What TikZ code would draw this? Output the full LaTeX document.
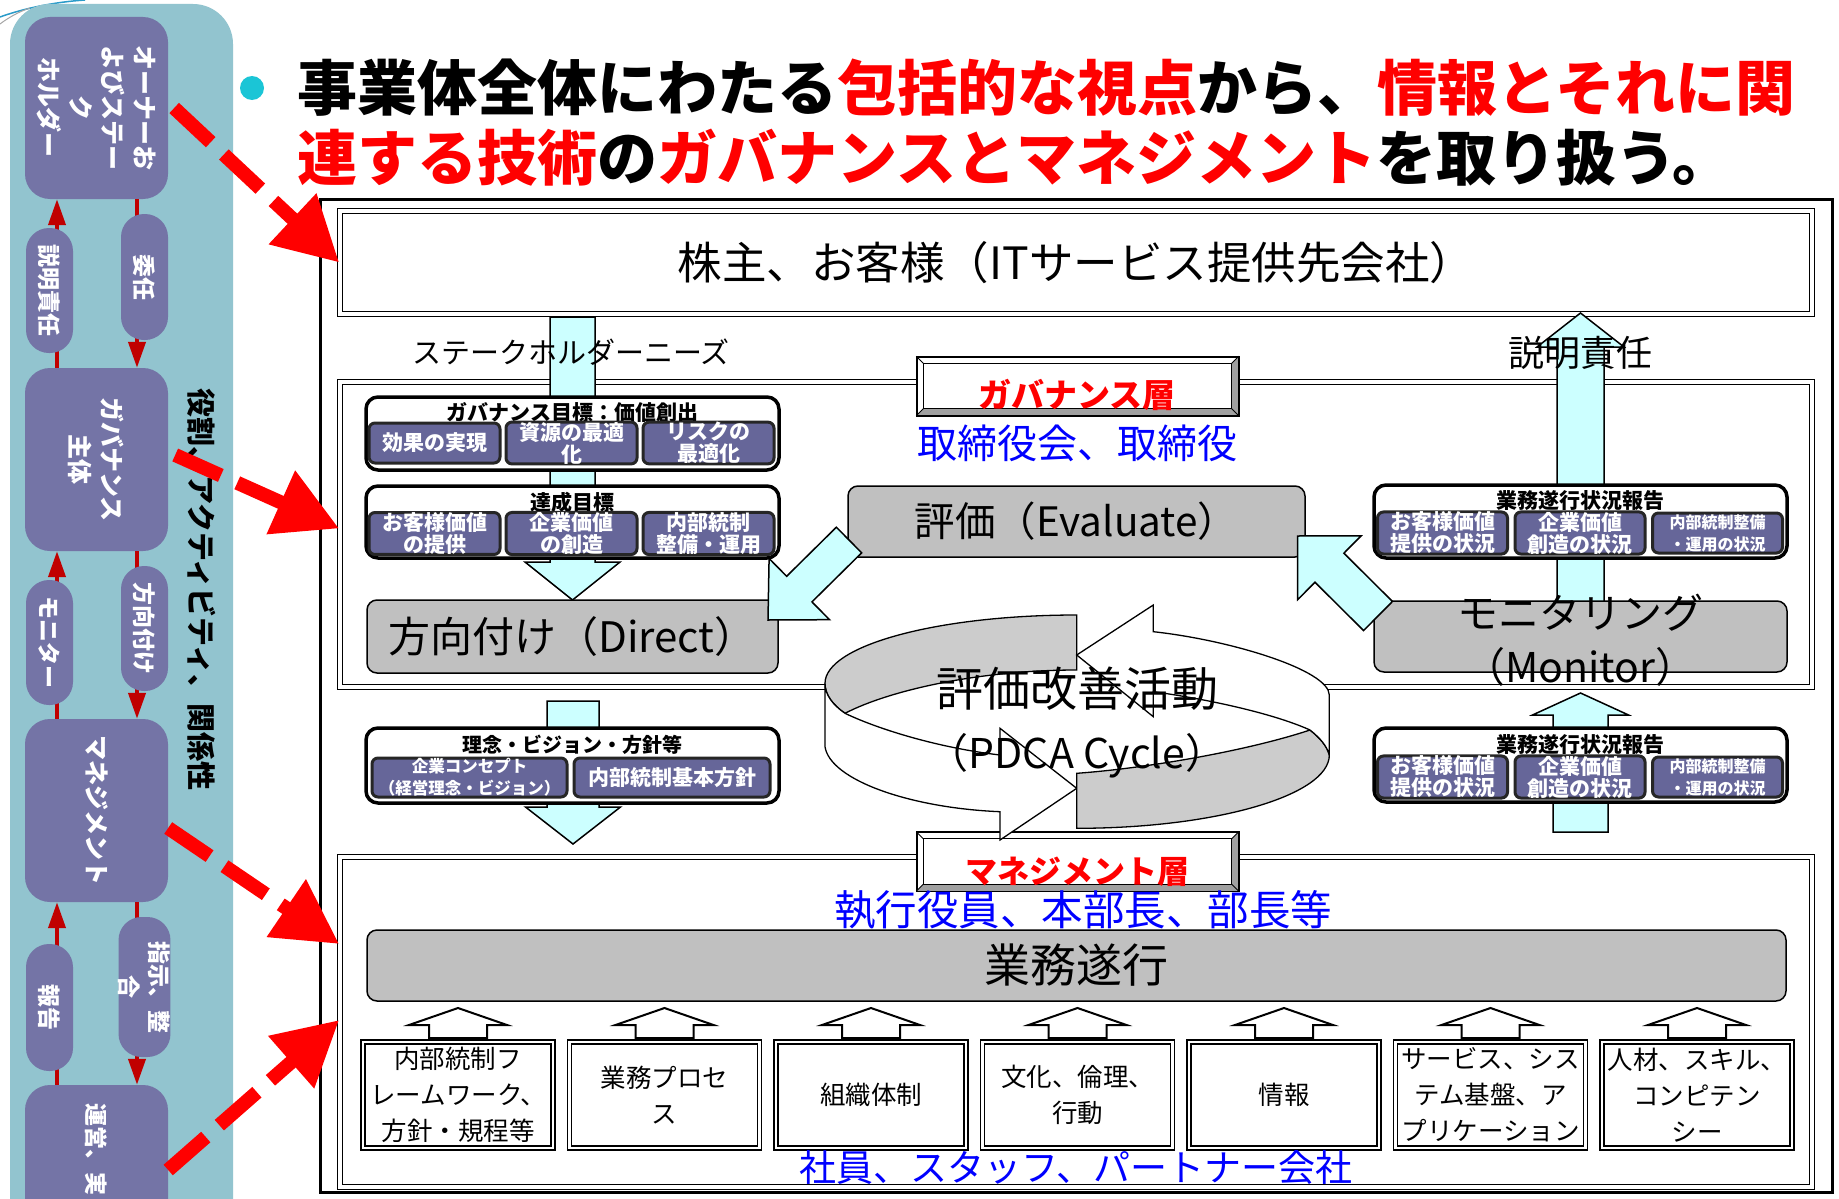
\documentclass[tikz,border=0pt]{standalone}
\usepackage{fontspec}
\setmainfont{Noto Sans CJK JP}
\usetikzlibrary{arrows.meta,calc}

\definecolor{panelbg}{HTML}{92C4CF}
\definecolor{panelpurple}{HTML}{7474A6}
\definecolor{panelred}{HTML}{C00000}
\definecolor{titlered}{HTML}{FF0000}
\definecolor{subfill}{HTML}{666699}
\definecolor{cyanfill}{HTML}{CCFFFF}
\definecolor{boxgray}{HTML}{C0C0C0}
\definecolor{ringfill}{HTML}{CCCCCC}
\definecolor{bevelgray}{HTML}{A0A0A0}
\definecolor{bulletcyan}{HTML}{1BC5D6}

\newcommand{\fs}[2]{\fontsize{#1}{#2}\selectfont}
% block arrow: style, start, tip, half shaft, half head, head length
\newcommand{\blockarrow}[6]{%
  \coordinate (ba) at ($(#3)!#6!(#2)$);
  \filldraw[#1] ($(#2)!#4!90:(#3)$) -- ($(ba)!#4!90:(#3)$) -- ($(ba)!#5!90:(#3)$) -- (#3)
    -- ($(ba)!#5!-90:(#3)$) -- ($(ba)!#4!-90:(#3)$) -- ($(#2)!#4!-90:(#3)$) -- cycle;
}

\begin{document}
\begin{tikzpicture}[x=1pt, y=-1pt,
  layerbox/.style={draw, line width=1.6, double, double distance=3.2, minimum width=1472, inner sep=0},
  panelbox/.style={fill=panelpurple, rounded corners=25, rotate=-90, text=white, align=center, font=\fs{25}{32}\bfseries, inner sep=0, minimum height=143},
  paneltext/.style={rotate=-90, text=white, font=\fs{23}{32}\bfseries, inner sep=0},
  pillbox/.style={fill=panelpurple, rounded corners=23, rotate=-90, text=white, align=center, font=\fs{23}{30}\bfseries, inner sep=0, minimum height=47},
  panelarrow/.style={draw=panelred, line width=4, -{Triangle[length=26pt, width=17pt]}},
  dasharrow/.style={draw=titlered, line width=14, dash pattern=on 50pt off 18pt, -{Triangle[length=64pt, width=66pt]}},
  grpbox/.style={draw, fill=white, line width=3.5, rounded corners=12, inner sep=0, minimum width=413},
  grptitle/.style={font=\fs{21}{22}\bfseries, inner sep=0},
  subbox/.style={draw=black!85, fill=subfill, line width=3, rounded corners=6, text=white, align=center, font=\fs{21}{22}\bfseries, inner sep=0, minimum height=40},
  graybox/.style={draw, fill=boxgray, line width=1.5, rounded corners=10, inner sep=0, align=center},
  cyanarrow/.style={draw, fill=cyanfill, line width=1.5},
  uparrow/.style={draw, fill=white, line width=2},
  resbox/.style={draw, line width=1.4, double, double distance=2.6, minimum width=190, minimum height=106, inner sep=0, align=center, font=\fs{25.5}{36}},
  labelbox/.style={draw, fill=white, line width=1.5, minimum width=321, minimum height=58, inner sep=0},
  ringgray/.style={draw, fill=ringfill, line width=1.3},
  ringwhite/.style={draw, fill=white, line width=1.3},
  bluetext/.style={text=blue, inner sep=0},
  redtext/.style={text=titlered, inner sep=0}
]
  \useasboundingbox (0,0) rectangle (1839,1199);
  \fill[white] (0,0) rectangle (1839,1199);

  % left panel
  \draw[cyan!60!teal, line width=1.5] (0,17) .. controls (25,8) and (55,2) .. (85,0);
  \draw[gray!70, line width=1] (0,24) .. controls (8,18) and (18,12) .. (30,8);
  \fill[panelbg, rounded corners=40] (10,4) rectangle (233,1240);
  \node[panelbox, minimum width=182] (owner) at (96.5,108) {オーナーお\\よびステー\\ク\\ホルダー};
  \node[panelbox, minimum width=183] (govbody) at (96.5,459.5) {ガバナンス\\主体};
  \node[panelbox, minimum width=183] (mgmtbox) at (96.5,810.5) {マネジメント};
  \node[panelbox, minimum width=183] (oper) at (96.5,1176.5) {};
  \node[paneltext, anchor=west] (opertext) at (96.5,1103) {運営、実};
  \draw[panelarrow] ([xshift=-39.5]govbody.west) -- ([xshift=-39.5]owner.east);
  \draw[panelarrow] ([xshift=40.5]owner.east) -- ([xshift=40.5]govbody.west);
  \draw[panelarrow] ([xshift=-39.5]mgmtbox.west) -- ([xshift=-39.5]govbody.east);
  \draw[panelarrow] ([xshift=40.5]govbody.east) -- ([xshift=40.5]mgmtbox.west);
  \draw[panelarrow] ([xshift=-39.5]oper.west) -- ([xshift=-39.5]mgmtbox.east);
  \draw[panelarrow] ([xshift=40.5]mgmtbox.east) -- ([xshift=40.5]oper.west);
  \node[pillbox, minimum width=125] (accnt) at (49.5,290.5) {説明責任};
  \node[pillbox, minimum width=126] (deleg) at (144.5,277) {委任};
  \node[pillbox, minimum width=125] (monit) at (49.5,642.5) {モニター};
  \node[pillbox, minimum width=125] (direc) at (144.5,628.5) {方向付け};
  \node[pillbox, minimum width=127] (report) at (49.5,1007.5) {報告};
  \node[pillbox, minimum width=140] (instr) at (144.5,987) {指示、整\\合};
  \node[rotate=-90, font=\fs{29}{32}\bfseries, inner sep=0] (roles) at (202,589.5) {役割、アクティビティ、関係性};

  % title
  \fill[bulletcyan] (252,88) circle (12);
  \node[anchor=west, inner sep=0, font=\fs{60}{70}\bfseries] (title1) at (297,88)
    {事業体全体にわたる\textcolor{titlered}{包括的な視点}から、\textcolor{titlered}{情報とそれに関}};
  \node[anchor=west, inner sep=0, font=\fs{60}{70}\bfseries] (title2) at (297,158)
    {\textcolor{titlered}{連する技術}の\textcolor{titlered}{ガバナンスとマネジメント}を取り扱う。};

  % frames
  \draw[line width=3] (320,199) rectangle (1832,1192);
  \node[layerbox, minimum height=103, font=\fs{44.5}{48}] (client) at (1076,262.5) {株主、お客様（ITサービス提供先会社）};
  \node[layerbox, minimum height=305] (govlayer) at (1076,534.5) {};
  \node[layerbox, minimum height=330] (mgmtlayer) at (1076,1022) {};

  % vertical block arrows
  \coordinate (sn-s) at (572.5,317);
  \coordinate (sn-t) at (572.5,600);
  \blockarrow{cyanarrow}{sn-s}{sn-t}{22.5pt}{47.5pt}{38pt}
  \coordinate (ac-s) at (1580.5,610);
  \coordinate (ac-t) at (1580.5,313);
  \blockarrow{cyanarrow}{ac-s}{ac-t}{23.5pt}{43.5pt}{34pt}
  \coordinate (rn-s) at (573,701);
  \coordinate (rn-t) at (573,844);
  \blockarrow{cyanarrow}{rn-s}{rn-t}{26pt}{47.5pt}{37pt}
  \coordinate (rp-s) at (1580.5,832);
  \coordinate (rp-t) at (1580.5,693);
  \blockarrow{cyanarrow}{rp-s}{rp-t}{27.5pt}{48pt}{22pt}

  % layer labels
  \foreach \nm/\cy in {govlabel/386, mgmtlabel/861.5} {
    \node[labelbox] (\nm) at (1077.5,\cy) {};
    \fill[bevelgray] (\nm.south west) -- (\nm.south east) -- ([shift={(-7,-7)}]\nm.south east) -- ([shift={(7,-7)}]\nm.south west) -- cycle;
    \fill[bevelgray] (\nm.south east) -- (\nm.north east) -- ([shift={(-7,7)}]\nm.north east) -- ([shift={(-7,-7)}]\nm.south east) -- cycle;
    \draw[line width=1.5] (\nm.south west) rectangle (\nm.north east);
    \draw[line width=1.2] ([shift={(7,7)}]\nm.north west) rectangle ([shift={(-7,-7)}]\nm.south east);
    \draw[line width=1] (\nm.north west) -- ([shift={(7,7)}]\nm.north west)
      (\nm.north east) -- ([shift={(-7,7)}]\nm.north east)
      (\nm.south east) -- ([shift={(-7,-7)}]\nm.south east)
      (\nm.south west) -- ([shift={(7,-7)}]\nm.south west);
  }

  % governance layer
  \node[grpbox, minimum height=73] (gtarget) at (572.5,433.5) {};
  \node[grptitle] (gtargett) at (572.5,412) {ガバナンス目標：価値創出};
  \node[subbox, minimum width=131] (gt1) at (434.5,443) {効果の実現};
  \node[subbox, minimum width=131] (gt2) at (571.5,443) {資源の最適\\化};
  \node[subbox, minimum width=131] (gt3) at (708.5,443) {リスクの\\最適化};
  \node[grpbox, minimum height=72] (achieve) at (572.5,522) {};
  \node[grptitle] (achievet) at (572.5,502) {達成目標};
  \node[subbox, minimum width=131] (ac1) at (434.5,533.5) {お客様価値\\の提供};
  \node[subbox, minimum width=131] (ac2) at (571.5,533.5) {企業価値\\の創造};
  \node[subbox, minimum width=131] (ac3) at (708.5,533.5) {内部統制\\整備・運用};
  \node[graybox, minimum width=411, minimum height=73, font=\fs{42}{48}] (direct) at (572.5,636.5) {方向付け（Direct）};
  \node[graybox, minimum width=457, minimum height=71, font=\fs{40.5}{48}] (evaluate) at (1076.5,521.5) {評価（Evaluate）};
  \node[grpbox, minimum height=73] (status1) at (1580.5,521.5) {};
  \node[grptitle] (status1t) at (1580.5,501) {業務遂行状況報告};
  \node[subbox, minimum width=130] (st1) at (1442.5,533) {お客様価値\\提供の状況};
  \node[subbox, minimum width=130] (st2) at (1580,533) {企業価値\\創造の状況};
  \node[subbox, minimum width=130, font=\fs{16}{22}\bfseries] (st3) at (1717.5,533) {内部統制整備\\・運用の状況};
  \node[graybox, minimum width=413, minimum height=71] (monitor) at (1580.5,636.5) {};
  \node[font=\fs{41}{54}, align=center, inner sep=0] (monitort) at (1580.5,640) {モニタリング\\（Monitor）};

  % middle row
  \node[grpbox, minimum height=75] (rinen) at (572.5,765.5) {};
  \node[grptitle, font=\fs{20}{22}\bfseries] (rinent) at (572.5,745) {理念・ビジョン・方針等};
  \node[subbox, minimum width=195, minimum height=39, font=\fs{16.5}{22}\bfseries] (rn1) at (469.5,777.5) {企業コンセプト\\（経営理念・ビジョン）};
  \node[subbox, minimum width=196, minimum height=39] (rn2) at (672,777.5) {内部統制基本方針};
  \node[grpbox, minimum height=74] (status2) at (1580.5,765) {};
  \node[grptitle] (status2t) at (1580.5,745) {業務遂行状況報告};
  \node[subbox, minimum width=130] (sr1) at (1442.5,777) {お客様価値\\提供の状況};
  \node[subbox, minimum width=130] (sr2) at (1580,777) {企業価値\\創造の状況};
  \node[subbox, minimum width=130, font=\fs{16}{22}\bfseries] (sr3) at (1717.5,777) {内部統制整備\\・運用の状況};

  % diagonal block arrows
  \coordinate (ed-s) at (849,540);
  \coordinate (ed-t) at (768,620);
  \blockarrow{cyanarrow}{ed-s}{ed-t}{18pt}{43pt}{44pt}
  \coordinate (me-s) at (1378,616);
  \coordinate (me-t) at (1297.5,536);
  \blockarrow{cyanarrow}{me-s}{me-t}{20.5pt}{45pt}{45pt}

  % PDCA cycle
  \fill[white] (1077,721) ellipse [x radius=250, y radius=104];
  \filldraw[ringgray] (1076.7,615) .. controls (937.6,615) and (825,645.5) .. (825,683.3)
    .. controls (825,695) and (833,705) .. (845,713.3)
    .. controls (890,690) and (980,670) .. (1076.7,670) -- cycle;
  \filldraw[ringwhite] (825,683.3) -- (825,746.7) .. controls (830,780) and (910,808) .. (1000,811.7)
    -- (1000,840) -- (1076.7,788.3) -- (1000,728.3) -- (1000,755)
    .. controls (940,748) and (880,730) .. (845,713.3)
    .. controls (833,705) and (825,695) .. (825,683.3) -- cycle;
  \filldraw[ringgray] (1076.7,773.3) .. controls (1150,768) and (1250,750) .. (1310,730)
    .. controls (1320,738) and (1327,746) .. (1329.3,755)
    .. controls (1329.3,795.3) and (1216,828.3) .. (1076.7,828.3) -- cycle;
  \filldraw[ringwhite] (1329.3,755) -- (1329.3,695) .. controls (1329,670) and (1230,640) .. (1153.3,631.7)
    -- (1153.3,605) -- (1076.7,655) -- (1153.3,716.7) -- (1153.3,691.7)
    .. controls (1200,698) and (1270,712) .. (1310,730)
    .. controls (1320,738) and (1327,746) .. (1329.3,755) -- cycle;
  \node[font=\fs{47}{50}, inner sep=0] (pdca1) at (1077,689) {評価改善活動};
  \node[font=\fs{41}{50}, inner sep=0] (pdca2) at (1077,756) {（PDCA Cycle）};

  % management layer
  \node[graybox, minimum width=1419, minimum height=71, font=\fs{46}{50}] (gyomu) at (1076.5,965.5) {業務遂行};
  \foreach \i/\txt [evaluate=\i as \cx using 458+206.5*\i] in {0/{内部統制フ\\レームワーク、\\方針・規程等}, 1/{業務プロセ\\ス}, 2/組織体制, 3/{文化、倫理、\\行動}, 4/情報, 5/{サービス、シス\\テム基盤、ア\\プリケーション}, 6/{人材、スキル、\\コンピテン\\シー}} {
    \node[resbox] (res\i) at (\cx,1095) {\txt};
    \coordinate (us\i) at (\cx,1038);
    \coordinate (ut\i) at (\cx,1008);
    \blockarrow{uparrow}{us\i}{ut\i}{29pt}{49pt}{17pt}
  }

  % labels
  \node[font=\fs{29}{34}, inner sep=0] (needs) at (571,352) {ステークホルダーニーズ};
  \node[font=\fs{36}{40}, inner sep=0] (accnttext) at (1580,353) {説明責任};
  \node[redtext, font=\fs{33}{36}\bfseries] (govlabelt) at (1077,395) {ガバナンス層};
  \node[bluetext, font=\fs{40}{44}] (board) at (1077,443) {取締役会、取締役};
  \node[redtext, font=\fs{32}{36}\bfseries] (mgmtlabelt) at (1077,872) {マネジメント層};
  \node[bluetext, font=\fs{41.5}{46}] (exec) at (1083,910) {執行役員、本部長、部長等};
  \node[bluetext, font=\fs{37}{40}] (staff) at (1076,1167) {社員、スタッフ、パートナー会社};

  % red dashed arrows
  \draw[dasharrow] ([xshift=6]owner.north) -- (client.west);
  \draw[dasharrow] ([xshift=7,yshift=4.5]govbody.north) -- ([yshift=6]govlayer.west);
  \draw[dasharrow] ([yshift=-17.5]mgmtbox.north) -- ([yshift=78]mgmtlayer.west);
  \draw[dasharrow] ([yshift=6.5]oper.north) -- ([yshift=2]mgmtlayer.west);
\end{tikzpicture}
\end{document}
